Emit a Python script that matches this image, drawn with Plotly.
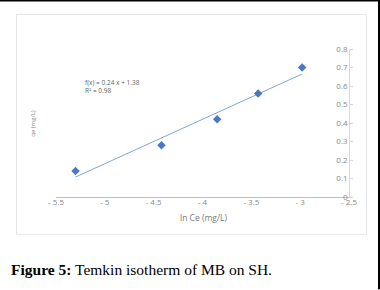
import plotly.graph_objects as go

# Data
ln_ce = [-5.30, -4.42, -3.85, -3.43, -2.98]
qe = [0.14, 0.28, 0.42, 0.56, 0.70]
slope, intercept = 0.24, 1.38
trend_x = [min(ln_ce), max(ln_ce)]
trend_y = [slope * x + intercept for x in trend_x]

x_ticks = [-5.5, -5, -4.5, -4, -3.5, -3, -2.5]
x_ticktext = ["- 5.5", "- 5", "- 4.5", "- 4", "- 3.5", "- 3", "- 2.5"]
y_ticks = [0, 0.1, 0.2, 0.3, 0.4, 0.5, 0.6, 0.7, 0.8]
y_ticktext = ["0", "0.1", "0.2", "0.3", "0.4", "0.5", "0.6", "0.7", "0.8"]

W, H = 380, 290
L, R, T, B = 56, 349, 49, 197.5  # plot area pixels


def px(x):
    return (x - L) / (R - L)


def py(y):
    return (B - y) / (B - T)


fig = go.Figure()
fig.add_trace(go.Scatter(x=trend_x, y=trend_y, mode="lines",
                         line=dict(color="#7fa7d9", width=1), hoverinfo="skip",
                         cliponaxis=False))
fig.add_trace(go.Scatter(x=ln_ce, y=qe, mode="markers", cliponaxis=False,
                         marker=dict(symbol="diamond", size=6.5, color="#4a78c2")))
# invisible helper trace for the tick-label axis
fig.add_trace(go.Scatter(x=trend_x, y=trend_y, xaxis="x2", mode="lines",
                         line=dict(width=0), opacity=0, hoverinfo="skip"))

tick_font = dict(family="Open Sans, Liberation Sans, sans-serif", size=8, color="#8a8a8a")

fig.update_layout(
    width=W, height=H,
    margin=dict(l=L, r=W - R, t=T, b=H - B, autoexpand=False),
    paper_bgcolor="white", plot_bgcolor="white",
    showlegend=False,
    xaxis=dict(range=[-5.5, -2.5], tickvals=x_ticks, showticklabels=False,
               showgrid=False, zeroline=False, showline=True, linecolor="#bfbfbf",
               linewidth=1, ticks="", automargin=False, fixedrange=True),
    xaxis2=dict(range=[-5.5, -2.5], overlaying="x", anchor="free", position=py(196),
                tickvals=x_ticks, ticktext=x_ticktext, showgrid=False, zeroline=False,
                showline=False, ticks="", ticklen=0, tickfont=tick_font,
                automargin=False, fixedrange=True),
    yaxis=dict(range=[0, 0.8], tickvals=y_ticks, ticktext=y_ticktext, side="right",
               ticklabelposition="inside", ticklabeloverflow="allow",
               showgrid=False, zeroline=False,
               showline=True, linecolor="#d9d9d9", linewidth=1, ticks="outside",
               ticklen=3, tickcolor="#d9d9d9", tickfont=tick_font,
               automargin=False, fixedrange=True),
    shapes=[
        # light chart frame
        dict(type="rect", xref="paper", yref="paper", x0=px(16.5), x1=px(366.5),
             y0=py(235), y1=py(14.5), line=dict(color="#e6e6e6", width=1)),
        # black page edges
        dict(type="line", xref="paper", yref="paper", x0=px(0), x1=px(380),
             y0=py(0.7), y1=py(0.7), line=dict(color="black", width=1.5)),
        dict(type="line", xref="paper", yref="paper", x0=px(379), x1=px(379),
             y0=py(0), y1=py(290), line=dict(color="black", width=2)),
    ],
    annotations=[
        dict(text="ln Ce (mg/L)", xref="paper", yref="paper", x=px(203), y=py(218),
             xanchor="center", yanchor="middle", showarrow=False,
             font=dict(family="Open Sans, sans-serif", size=8.5, color="#7a7a7a")),
        dict(text="qe (mg/L)", xref="paper", yref="paper", x=px(33), y=py(124),
             xanchor="center", yanchor="middle", textangle=-90, showarrow=False,
             font=dict(family="Open Sans, sans-serif", size=6, color="#8a8a8a")),
        dict(text="f(x) = 0.24 x + 1.38<br>R² = 0.98", xref="paper", yref="paper",
             x=px(83), y=py(76), xanchor="left", yanchor="top", align="left",
             showarrow=False,
             font=dict(family="Open Sans, sans-serif", size=6.5, color="#666666")),
        dict(text="<b>Figure 5:</b> Temkin isotherm of MB on SH.", xref="paper",
             yref="paper", x=px(9), y=py(270), xanchor="left", yanchor="middle",
             showarrow=False,
             font=dict(family="Liberation Serif, serif", size=15.5, color="black")),
    ],
)

fig.write_html("out.html", config={"displayModeBar": False},
               post_script="document.body.style.margin='0';")
